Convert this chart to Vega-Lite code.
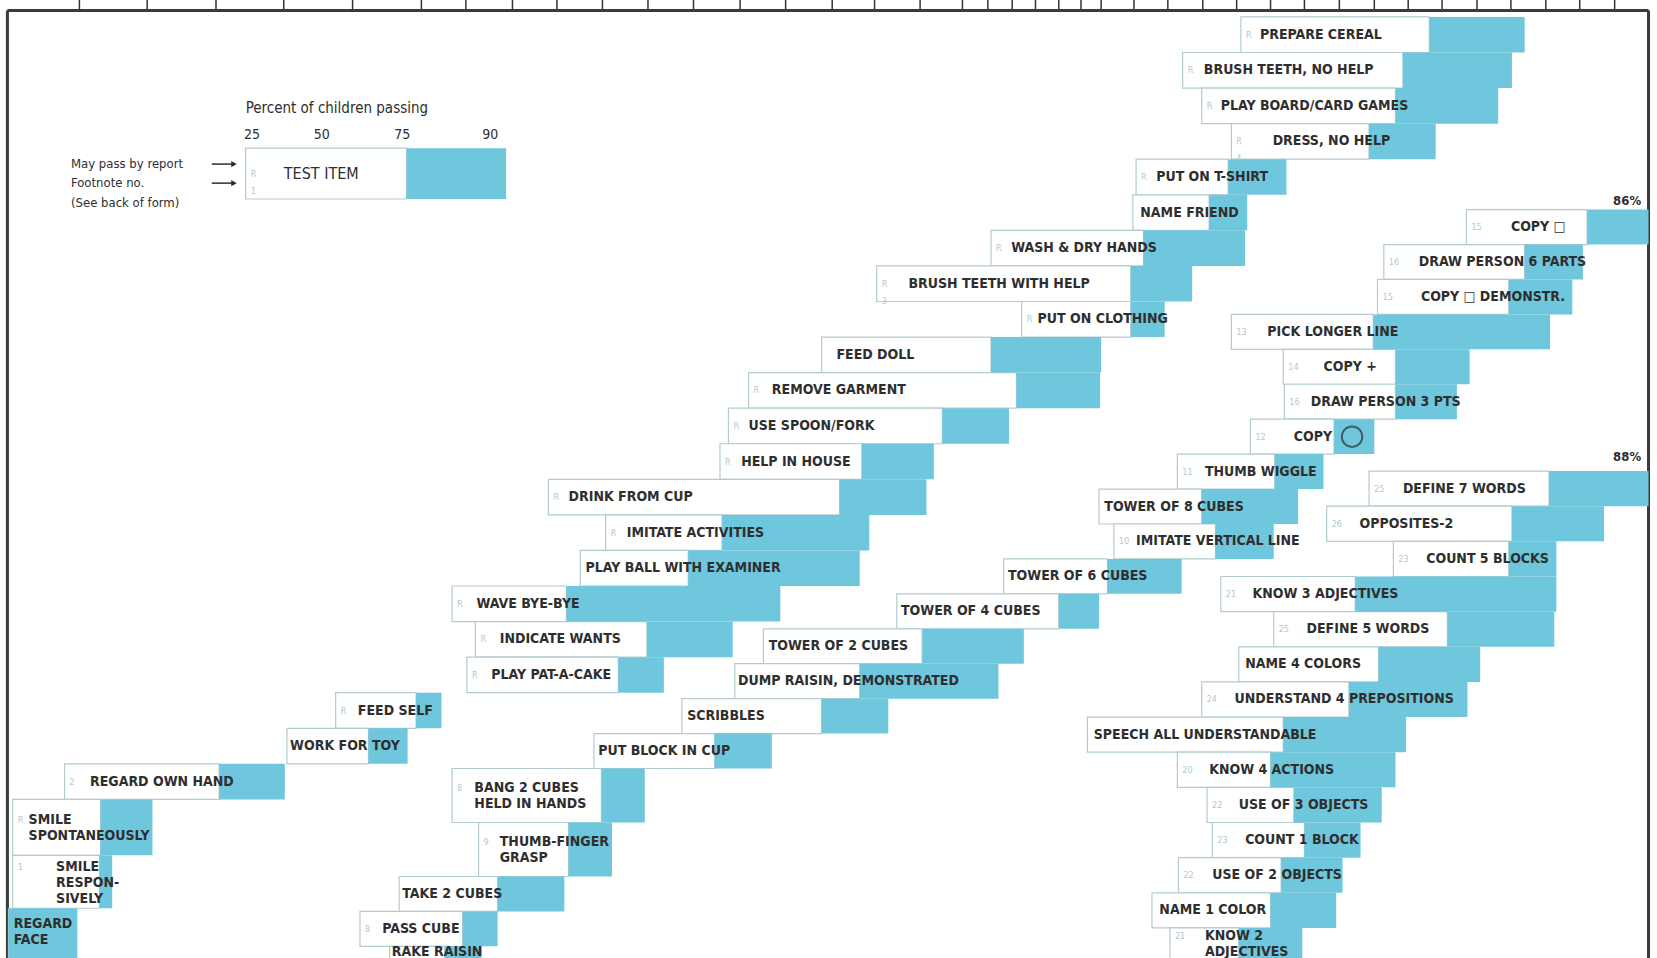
{
  "$schema": "https://vega.github.io/schema/vega-lite/v6.json",
  "width": 1657,
  "height": 958,
  "autosize": {"type": "none"},
  "padding": 0,
  "background": "#ffffff",
  "config": {
    "view": {"stroke": null},
    "text": {"font": "Liberation Sans Narrow, DejaVu Sans Condensed, Roboto, sans-serif", "color": "#2e2e2e"}
  },
  "datasets": {
    "items": [
      {"sec": "legend", "label": "TEST ITEM", "fn": "R\n1", "lo": 232, "mid": 384, "hi": 478, "top": 140, "bot": 188, "lx": 268, "ly": 164},
      {"sec": "ps", "label": "PREPARE CEREAL", "fn": "R", "lo": 1172, "mid": 1350, "hi": 1440, "top": 16, "bot": 49.6, "lx": 1190, "ly": 32.8},
      {"sec": "ps", "label": "BRUSH TEETH, NO HELP", "fn": "R", "lo": 1117, "mid": 1325, "hi": 1428, "top": 49.6, "bot": 83.2, "lx": 1137, "ly": 66.4},
      {"sec": "ps", "label": "PLAY BOARD/CARD GAMES", "fn": "R", "lo": 1135, "mid": 1318, "hi": 1415, "top": 83.2, "bot": 116.8, "lx": 1153, "ly": 100},
      {"sec": "ps", "label": "DRESS, NO HELP", "fn": "R\n4", "lo": 1163, "mid": 1293, "hi": 1356, "top": 116.8, "bot": 150.4, "lx": 1202, "ly": 133.6},
      {"sec": "ps", "label": "PUT ON T-SHIRT", "fn": "R", "lo": 1073, "mid": 1160, "hi": 1215, "top": 150.4, "bot": 184, "lx": 1092, "ly": 167.2},
      {"sec": "ps", "label": "NAME FRIEND", "fn": "", "lo": 1070, "mid": 1142, "hi": 1178, "top": 184, "bot": 217.6, "lx": 1077, "ly": 200.8},
      {"sec": "ps", "label": "WASH & DRY HANDS", "fn": "R", "lo": 936, "mid": 1080, "hi": 1176, "top": 217.6, "bot": 251.2, "lx": 955, "ly": 234.4},
      {"sec": "ps", "label": "BRUSH TEETH WITH HELP", "fn": "R\n3", "lo": 828, "mid": 1068, "hi": 1126, "top": 251.2, "bot": 284.8, "lx": 858, "ly": 268},
      {"sec": "ps", "label": "PUT ON CLOTHING", "fn": "R", "lo": 965, "mid": 1068, "hi": 1100, "top": 284.8, "bot": 318.4, "lx": 980, "ly": 301.6},
      {"sec": "ps", "label": "FEED DOLL", "fn": "", "lo": 776, "mid": 936, "hi": 1040, "top": 318.4, "bot": 352, "lx": 790, "ly": 335.2},
      {"sec": "ps", "label": "REMOVE GARMENT", "fn": "R", "lo": 707, "mid": 960, "hi": 1039, "top": 352, "bot": 385.6, "lx": 729, "ly": 368.8},
      {"sec": "ps", "label": "USE SPOON/FORK", "fn": "R", "lo": 688, "mid": 890, "hi": 953, "top": 385.6, "bot": 419.2, "lx": 707, "ly": 402.4},
      {"sec": "ps", "label": "HELP IN HOUSE", "fn": "R", "lo": 680, "mid": 814, "hi": 882, "top": 419.2, "bot": 452.8, "lx": 700, "ly": 436},
      {"sec": "ps", "label": "DRINK FROM CUP", "fn": "R", "lo": 518, "mid": 793, "hi": 875, "top": 452.8, "bot": 486.4, "lx": 537, "ly": 469.6},
      {"sec": "ps", "label": "IMITATE ACTIVITIES", "fn": "R", "lo": 572, "mid": 682, "hi": 821, "top": 486.4, "bot": 520, "lx": 592, "ly": 503.2},
      {"sec": "ps", "label": "PLAY BALL WITH EXAMINER", "fn": "", "lo": 548, "mid": 650, "hi": 812, "top": 520, "bot": 553.6, "lx": 553, "ly": 536.8},
      {"sec": "ps", "label": "WAVE BYE-BYE", "fn": "R", "lo": 427, "mid": 535, "hi": 737, "top": 553.6, "bot": 587.2, "lx": 450, "ly": 570.4},
      {"sec": "ps", "label": "INDICATE WANTS", "fn": "R", "lo": 449, "mid": 611, "hi": 692, "top": 587.2, "bot": 620.8, "lx": 472, "ly": 604},
      {"sec": "ps", "label": "PLAY PAT-A-CAKE", "fn": "R", "lo": 441, "mid": 584, "hi": 627, "top": 620.8, "bot": 654.4, "lx": 464, "ly": 637.6},
      {"sec": "ps", "label": "FEED SELF", "fn": "R", "lo": 317, "mid": 393, "hi": 417, "top": 654.4, "bot": 688, "lx": 338, "ly": 671.2},
      {"sec": "ps", "label": "WORK FOR TOY", "fn": "", "lo": 271, "mid": 348, "hi": 385, "top": 688, "bot": 721.6, "lx": 274, "ly": 704.8},
      {"sec": "ps", "label": "REGARD OWN HAND", "fn": "2", "lo": 61, "mid": 207, "hi": 269, "top": 721.6, "bot": 755.2, "lx": 85, "ly": 738.4},
      {"sec": "ps", "label": "SMILE\nSPONTANEOUSLY", "fn": "R", "lo": 12, "mid": 95, "hi": 144, "top": 755.2, "bot": 808, "lx": 27, "ly": 775},
      {"sec": "ps", "label": "SMILE\nRESPON-\nSIVELY", "fn": "1", "lo": 12, "mid": 94, "hi": 106, "top": 808, "bot": 858, "lx": 53, "ly": 819},
      {"sec": "ps", "label": "REGARD\nFACE", "fn": "", "lo": 8, "mid": 8, "hi": 73, "top": 858, "bot": 912, "lx": 13, "ly": 873},
      {"sec": "fm", "label": "COPY □", "fn": "15", "lo": 1385, "mid": 1499, "hi": 1557, "top": 198, "bot": 231, "lx": 1427, "ly": 214.5},
      {"sec": "fm", "label": "DRAW PERSON 6 PARTS", "fn": "16", "lo": 1307, "mid": 1440, "hi": 1495, "top": 231, "bot": 264, "lx": 1340, "ly": 247.5},
      {"sec": "fm", "label": "COPY □ DEMONSTR.", "fn": "15", "lo": 1301, "mid": 1425, "hi": 1485, "top": 264, "bot": 297, "lx": 1342, "ly": 280.5},
      {"sec": "fm", "label": "PICK LONGER LINE", "fn": "13", "lo": 1163, "mid": 1297, "hi": 1464, "top": 297, "bot": 330, "lx": 1197, "ly": 313.5},
      {"sec": "fm", "label": "COPY +", "fn": "14", "lo": 1212, "mid": 1318, "hi": 1388, "top": 330, "bot": 363, "lx": 1250, "ly": 346.5},
      {"sec": "fm", "label": "DRAW PERSON 3 PTS", "fn": "16", "lo": 1213, "mid": 1318, "hi": 1376, "top": 363, "bot": 396, "lx": 1238, "ly": 379.5},
      {"sec": "fm", "label": "COPY", "fn": "12", "lo": 1181, "mid": 1260, "hi": 1298, "top": 396, "bot": 429, "lx": 1222, "ly": 412.5},
      {"sec": "fm", "label": "THUMB WIGGLE", "fn": "11", "lo": 1112, "mid": 1204, "hi": 1250, "top": 429, "bot": 462, "lx": 1138, "ly": 445.5},
      {"sec": "fm", "label": "TOWER OF 8 CUBES", "fn": "", "lo": 1038, "mid": 1135, "hi": 1226, "top": 462, "bot": 495, "lx": 1043, "ly": 478.5},
      {"sec": "fm", "label": "IMITATE VERTICAL LINE", "fn": "10", "lo": 1052, "mid": 1148, "hi": 1203, "top": 495, "bot": 528, "lx": 1073, "ly": 511.5},
      {"sec": "fm", "label": "TOWER OF 6 CUBES", "fn": "", "lo": 948, "mid": 1046, "hi": 1116, "top": 528, "bot": 561, "lx": 952, "ly": 544.5},
      {"sec": "fm", "label": "TOWER OF 4 CUBES", "fn": "", "lo": 847, "mid": 1000, "hi": 1038, "top": 561, "bot": 594, "lx": 851, "ly": 577.5},
      {"sec": "fm", "label": "TOWER OF 2 CUBES", "fn": "", "lo": 721, "mid": 871, "hi": 967, "top": 594, "bot": 627, "lx": 726, "ly": 610.5},
      {"sec": "fm", "label": "DUMP RAISIN, DEMONSTRATED", "fn": "", "lo": 694, "mid": 812, "hi": 943, "top": 627, "bot": 660, "lx": 697, "ly": 643.5},
      {"sec": "fm", "label": "SCRIBBLES", "fn": "", "lo": 644, "mid": 776, "hi": 839, "top": 660, "bot": 693, "lx": 649, "ly": 676.5},
      {"sec": "fm", "label": "PUT BLOCK IN CUP", "fn": "", "lo": 561, "mid": 675, "hi": 729, "top": 693, "bot": 726, "lx": 565, "ly": 709.5},
      {"sec": "fm", "label": "BANG 2 CUBES\nHELD IN HANDS", "fn": "8", "lo": 427, "mid": 568, "hi": 609, "top": 726, "bot": 777, "lx": 448, "ly": 744},
      {"sec": "fm", "label": "THUMB-FINGER\nGRASP", "fn": "9", "lo": 452, "mid": 537, "hi": 578, "top": 777, "bot": 828, "lx": 472, "ly": 795},
      {"sec": "fm", "label": "TAKE 2 CUBES", "fn": "", "lo": 377, "mid": 470, "hi": 533, "top": 828, "bot": 861, "lx": 380, "ly": 844.5},
      {"sec": "fm", "label": "PASS CUBE", "fn": "8", "lo": 340, "mid": 437, "hi": 470, "top": 861, "bot": 894, "lx": 361, "ly": 877.5},
      {"sec": "fm", "label": "RAKE RAISIN", "fn": "", "lo": 368, "mid": 420, "hi": 455, "top": 894, "bot": 930, "lx": 370, "ly": 899},
      {"sec": "lang", "label": "DEFINE 7 WORDS", "fn": "25", "lo": 1293, "mid": 1463, "hi": 1557, "top": 445, "bot": 478.2, "lx": 1325, "ly": 461.6},
      {"sec": "lang", "label": "OPPOSITES-2", "fn": "26", "lo": 1253, "mid": 1428, "hi": 1515, "top": 478.2, "bot": 511.4, "lx": 1284, "ly": 494.8},
      {"sec": "lang", "label": "COUNT 5 BLOCKS", "fn": "23", "lo": 1316, "mid": 1425, "hi": 1470, "top": 511.4, "bot": 544.6, "lx": 1347, "ly": 528},
      {"sec": "lang", "label": "KNOW 3 ADJECTIVES", "fn": "21", "lo": 1153, "mid": 1280, "hi": 1470, "top": 544.6, "bot": 577.8, "lx": 1183, "ly": 561.2},
      {"sec": "lang", "label": "DEFINE 5 WORDS", "fn": "25", "lo": 1203, "mid": 1367, "hi": 1468, "top": 577.8, "bot": 611, "lx": 1234, "ly": 594.4},
      {"sec": "lang", "label": "NAME 4 COLORS", "fn": "", "lo": 1170, "mid": 1302, "hi": 1398, "top": 611, "bot": 644.2, "lx": 1176, "ly": 627.6},
      {"sec": "lang", "label": "UNDERSTAND 4 PREPOSITIONS", "fn": "24", "lo": 1135, "mid": 1274, "hi": 1386, "top": 644.2, "bot": 677.4, "lx": 1166, "ly": 660.8},
      {"sec": "lang", "label": "SPEECH ALL UNDERSTANDABLE", "fn": "", "lo": 1027, "mid": 1212, "hi": 1328, "top": 677.4, "bot": 710.6, "lx": 1033, "ly": 694},
      {"sec": "lang", "label": "KNOW 4 ACTIONS", "fn": "20", "lo": 1112, "mid": 1200, "hi": 1318, "top": 710.6, "bot": 743.8, "lx": 1142, "ly": 727.2},
      {"sec": "lang", "label": "USE OF 3 OBJECTS", "fn": "22", "lo": 1140, "mid": 1222, "hi": 1305, "top": 743.8, "bot": 777, "lx": 1170, "ly": 760.4},
      {"sec": "lang", "label": "COUNT 1 BLOCK", "fn": "23", "lo": 1145, "mid": 1232, "hi": 1285, "top": 777, "bot": 810.2, "lx": 1176, "ly": 793.6},
      {"sec": "lang", "label": "USE OF 2 OBJECTS", "fn": "22", "lo": 1113, "mid": 1210, "hi": 1268, "top": 810.2, "bot": 843.4, "lx": 1145, "ly": 826.8},
      {"sec": "lang", "label": "NAME 1 COLOR", "fn": "", "lo": 1088, "mid": 1200, "hi": 1262, "top": 843.4, "bot": 876.6, "lx": 1095, "ly": 860},
      {"sec": "lang", "label": "KNOW 2\nADJECTIVES", "fn": "21", "lo": 1105, "mid": 1170, "hi": 1230, "top": 876.6, "bot": 926, "lx": 1138, "ly": 884}
    ],
    "ticks": [
      {"x": 75}, {"x": 139}, {"x": 204}, {"x": 268}, {"x": 333}, {"x": 398}, {"x": 440}, {"x": 484},
      {"x": 526}, {"x": 569}, {"x": 612}, {"x": 655}, {"x": 699}, {"x": 742}, {"x": 786}, {"x": 826},
      {"x": 869}, {"x": 909}, {"x": 933}, {"x": 956}, {"x": 978}, {"x": 1000}, {"x": 1021}, {"x": 1040},
      {"x": 1071}, {"x": 1103}, {"x": 1136}, {"x": 1168}, {"x": 1200}, {"x": 1232}, {"x": 1265}, {"x": 1298},
      {"x": 1330}, {"x": 1362}, {"x": 1395}, {"x": 1427}, {"x": 1460}, {"x": 1492}, {"x": 1525}
    ],
    "frame": [
      {"x": 7, "x2": 1557, "y": 10, "y2": 10},
      {"x": 7, "x2": 7, "y": 10, "y2": 905},
      {"x": 1557, "x2": 1557, "y": 10, "y2": 905}
    ],
    "notes": [
      {"kind": "title", "x": 232, "y": 102, "text": "Percent of children passing"},
      {"kind": "pct", "x": 238, "y": 128, "text": "25"},
      {"kind": "pct", "x": 304, "y": 128, "text": "50"},
      {"kind": "pct", "x": 380, "y": 128, "text": "75"},
      {"kind": "pct", "x": 463, "y": 128, "text": "90"},
      {"kind": "side", "x": 67, "y": 155, "text": "May pass by report"},
      {"kind": "side", "x": 67, "y": 173, "text": "Footnote no."},
      {"kind": "side", "x": 67, "y": 192, "text": "(See back of form)"},
      {"kind": "edge", "x": 1550, "y": 190, "text": "86%"},
      {"kind": "edge", "x": 1550, "y": 432, "text": "88%"}
    ],
    "arrows": [
      {"x": 200, "x2": 221, "y": 155},
      {"x": 200, "x2": 221, "y": 173}
    ],
    "glyphs": [
      {"x": 1277, "y": 412.5}
    ]
  },
  "layer": [
    {
      "data": {"name": "ticks"},
      "mark": {"type": "rule", "color": "#333333", "strokeWidth": 1.5},
      "encoding": {
        "x": {"field": "x", "type": "quantitative", "scale": {"domain": [0, 1565], "nice": false, "zero": false}, "axis": null},
        "y": {"datum": 0, "type": "quantitative", "scale": {"domain": [0, 905], "nice": false, "zero": false, "reverse": true}, "axis": null},
        "y2": {"datum": 10}
      }
    },
    {
      "data": {"name": "frame"},
      "mark": {"type": "rule", "color": "#3a3a3a", "strokeWidth": 3},
      "encoding": {
        "x": {"field": "x", "type": "quantitative"},
        "x2": {"field": "x2"},
        "y": {"field": "y", "type": "quantitative"},
        "y2": {"field": "y2"}
      }
    },
    {
      "data": {"name": "items"},
      "mark": {"type": "rect", "fill": "#ffffff", "stroke": "#b3cbd1", "strokeWidth": 1.2},
      "encoding": {
        "x": {"field": "lo", "type": "quantitative"},
        "x2": {"field": "mid"},
        "y": {"field": "top", "type": "quantitative"},
        "y2": {"field": "bot"}
      }
    },
    {
      "data": {"name": "items"},
      "mark": {"type": "rect", "fill": "#6fc7dd"},
      "encoding": {
        "x": {"field": "mid", "type": "quantitative"},
        "x2": {"field": "hi"},
        "y": {"field": "top", "type": "quantitative"},
        "y2": {"field": "bot"}
      }
    },
    {
      "data": {"name": "items"},
      "transform": [{"filter": "datum.fn != ''"}],
      "mark": {"type": "text", "align": "left", "baseline": "middle", "dx": 5, "fontSize": 9, "lineBreak": "\n", "lineHeight": 17, "color": "#b2c9ce"},
      "encoding": {
        "x": {"field": "lo", "type": "quantitative"},
        "y": {"field": "ly", "type": "quantitative"},
        "text": {"field": "fn"}
      }
    },
    {
      "data": {"name": "items"},
      "transform": [{"filter": "datum.sec != 'legend'"}],
      "mark": {"type": "text", "align": "left", "baseline": "middle", "fontSize": 14, "fontWeight": "bold", "lineBreak": "\n", "lineHeight": 16},
      "encoding": {
        "x": {"field": "lx", "type": "quantitative"},
        "y": {"field": "ly", "type": "quantitative"},
        "text": {"field": "label"}
      }
    },
    {
      "data": {"name": "items"},
      "transform": [{"filter": "datum.sec == 'legend'"}],
      "mark": {"type": "text", "align": "left", "baseline": "middle", "fontSize": 16},
      "encoding": {
        "x": {"field": "lx", "type": "quantitative"},
        "y": {"field": "ly", "type": "quantitative"},
        "text": {"field": "label"}
      }
    },
    {
      "data": {"name": "glyphs"},
      "mark": {"type": "point", "shape": "circle", "filled": false, "size": 420, "stroke": "#2e2e2e", "strokeWidth": 2},
      "encoding": {
        "x": {"field": "x", "type": "quantitative"},
        "y": {"field": "y", "type": "quantitative"}
      }
    },
    {
      "data": {"name": "notes"},
      "transform": [{"filter": "datum.kind == 'title'"}],
      "mark": {"type": "text", "align": "left", "baseline": "middle", "fontSize": 15},
      "encoding": {
        "x": {"field": "x", "type": "quantitative"},
        "y": {"field": "y", "type": "quantitative"},
        "text": {"field": "text"}
      }
    },
    {
      "data": {"name": "notes"},
      "transform": [{"filter": "datum.kind == 'pct'"}],
      "mark": {"type": "text", "align": "center", "baseline": "middle", "fontSize": 14},
      "encoding": {
        "x": {"field": "x", "type": "quantitative"},
        "y": {"field": "y", "type": "quantitative"},
        "text": {"field": "text"}
      }
    },
    {
      "data": {"name": "notes"},
      "transform": [{"filter": "datum.kind == 'side'"}],
      "mark": {"type": "text", "align": "left", "baseline": "middle", "fontSize": 13},
      "encoding": {
        "x": {"field": "x", "type": "quantitative"},
        "y": {"field": "y", "type": "quantitative"},
        "text": {"field": "text"}
      }
    },
    {
      "data": {"name": "notes"},
      "transform": [{"filter": "datum.kind == 'edge'"}],
      "mark": {"type": "text", "align": "right", "baseline": "middle", "fontSize": 13, "fontWeight": "bold"},
      "encoding": {
        "x": {"field": "x", "type": "quantitative"},
        "y": {"field": "y", "type": "quantitative"},
        "text": {"field": "text"}
      }
    },
    {
      "data": {"name": "arrows"},
      "mark": {"type": "rule", "color": "#2e2e2e", "strokeWidth": 1.5},
      "encoding": {
        "x": {"field": "x", "type": "quantitative"},
        "x2": {"field": "x2"},
        "y": {"field": "y", "type": "quantitative"}
      }
    },
    {
      "data": {"name": "arrows"},
      "mark": {"type": "point", "shape": "triangle-right", "filled": true, "size": 40, "color": "#2e2e2e", "opacity": 1},
      "encoding": {
        "x": {"field": "x2", "type": "quantitative"},
        "y": {"field": "y", "type": "quantitative"}
      }
    }
  ]
}
